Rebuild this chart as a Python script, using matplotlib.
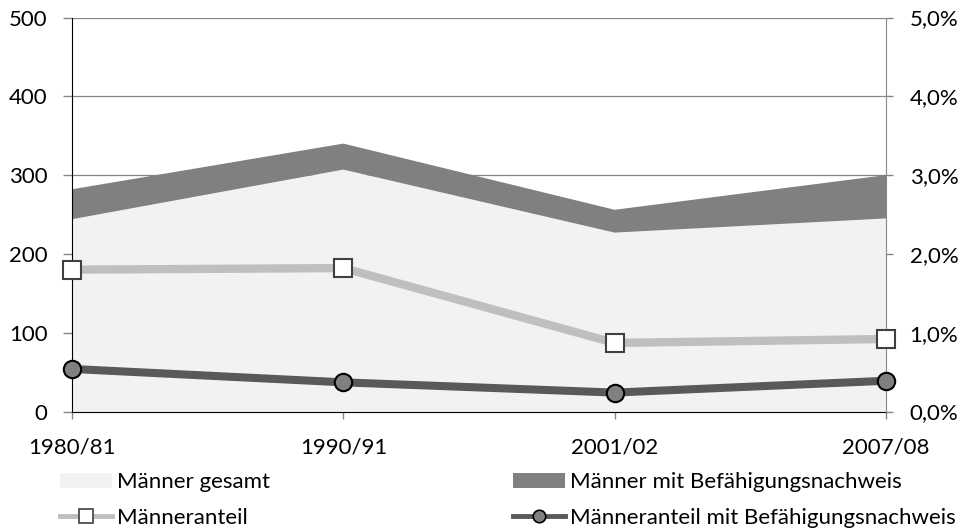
import matplotlib
matplotlib.use("Agg")
import matplotlib.pyplot as plt
from matplotlib.lines import Line2D
from matplotlib.patches import Patch
from matplotlib.ticker import FuncFormatter

# Werte
jahre = ["1980/81", "1990/91", "2001/02", "2007/08"]
maenner_gesamt = [244, 307, 227, 245]          # linke Achse
maenner_befaehigung = [38, 33, 29, 55]         # gestapelt oben drauf
anteil = [0.0180, 0.0182, 0.0087, 0.0092]      # rechte Achse
anteil_befaehigung = [0.0054, 0.0037, 0.0024, 0.0039]

plt.rcParams["font.family"] = ["Lato", "DejaVu Sans"]
FS = 16
FS_LEG = 16

C_LIGHT = "#f2f2f2"
C_DARK = "#808080"
C_LINE1 = "#bfbfbf"
C_LINE2 = "#595959"
C_GRID = "#868686"

fig = plt.figure(figsize=(9.68, 5.32), dpi=100)
ax = fig.add_axes([72 / 968, 1 - 411.5 / 532, (886 - 72) / 968, (411.5 - 17.5) / 532])
x = list(range(len(jahre)))

ax.stackplot(x, maenner_gesamt, maenner_befaehigung,
             colors=[C_LIGHT, C_DARK], linewidth=0)
ax.set_xlim(0, 3)
ax.set_ylim(0, 500)
ax.set_yticks([0, 100, 200, 300, 400, 500])
ax.set_axisbelow(True)
ax.yaxis.grid(True, color=C_GRID, linewidth=0.9)
ax.set_xticks(x)
ax.set_xticklabels(jahre)
ax.tick_params(axis="y", direction="out", length=6.5, width=1, color=C_GRID,
               labelsize=FS, pad=11)
ax.tick_params(axis="x", direction="out", length=5, width=1, color=C_GRID,
               labelsize=FS, pad=14)
for s in ["top", "right"]:
    ax.spines[s].set_visible(False)
ax.spines["left"].set_color("black")
ax.spines["bottom"].set_color("black")

ax2 = ax.twinx()
ax2.set_ylim(0, 0.05)
ax2.set_yticks([0, 0.01, 0.02, 0.03, 0.04, 0.05])
ax2.yaxis.set_major_formatter(FuncFormatter(lambda v, p: f"{v * 100:.1f}%".replace(".", ",")))
ax2.tick_params(axis="y", direction="out", length=5, width=1, color=C_GRID,
                labelsize=FS, pad=12)
for s in ["top", "left", "bottom"]:
    ax2.spines[s].set_visible(False)
ax2.spines["right"].set_color(C_GRID)

ax2.plot(x, anteil, color=C_LINE1, linewidth=6, marker="s", markersize=12.5,
         markerfacecolor="white", markeredgecolor="#404040", markeredgewidth=1.5,
         clip_on=False, zorder=3)
ax2.plot(x, anteil_befaehigung, color=C_LINE2, linewidth=5.8, marker="o", markersize=12.5,
         markerfacecolor=C_DARK, markeredgecolor="black", markeredgewidth=1.5,
         clip_on=False, zorder=4)

h_gesamt = Patch(facecolor=C_LIGHT, edgecolor="none")
h_bef = Patch(facecolor=C_DARK, edgecolor="none")
h_anteil = Line2D([], [], color=C_LINE1, linewidth=3.5, marker="s", markersize=9.5,
                  markerfacecolor="white", markeredgecolor="#404040", markeredgewidth=1.2)
h_anteil_bef = Line2D([], [], color=C_LINE2, linewidth=3.5, marker="o", markersize=9,
                      markerfacecolor=C_DARK, markeredgecolor="black", markeredgewidth=1.2)

leg_kw = dict(loc="upper left", frameon=False, fontsize=FS_LEG, borderpad=0, borderaxespad=0,
              handlelength=2.35, handleheight=0.65, handletextpad=0.2, labelspacing=0.7)
leg1 = fig.legend([h_gesamt, h_anteil], ["Männer gesamt", "Männeranteil"],
                  bbox_to_anchor=(60 / 968, 1 - 472 / 532), **leg_kw)
leg2 = fig.legend([h_bef, h_anteil_bef],
                  ["Männer mit Befähigungsnachweis", "Männeranteil mit Befähigungsnachweis"],
                  bbox_to_anchor=(513 / 968, 1 - 472 / 532), **leg_kw)

fig.savefig("out.png", dpi=100)
